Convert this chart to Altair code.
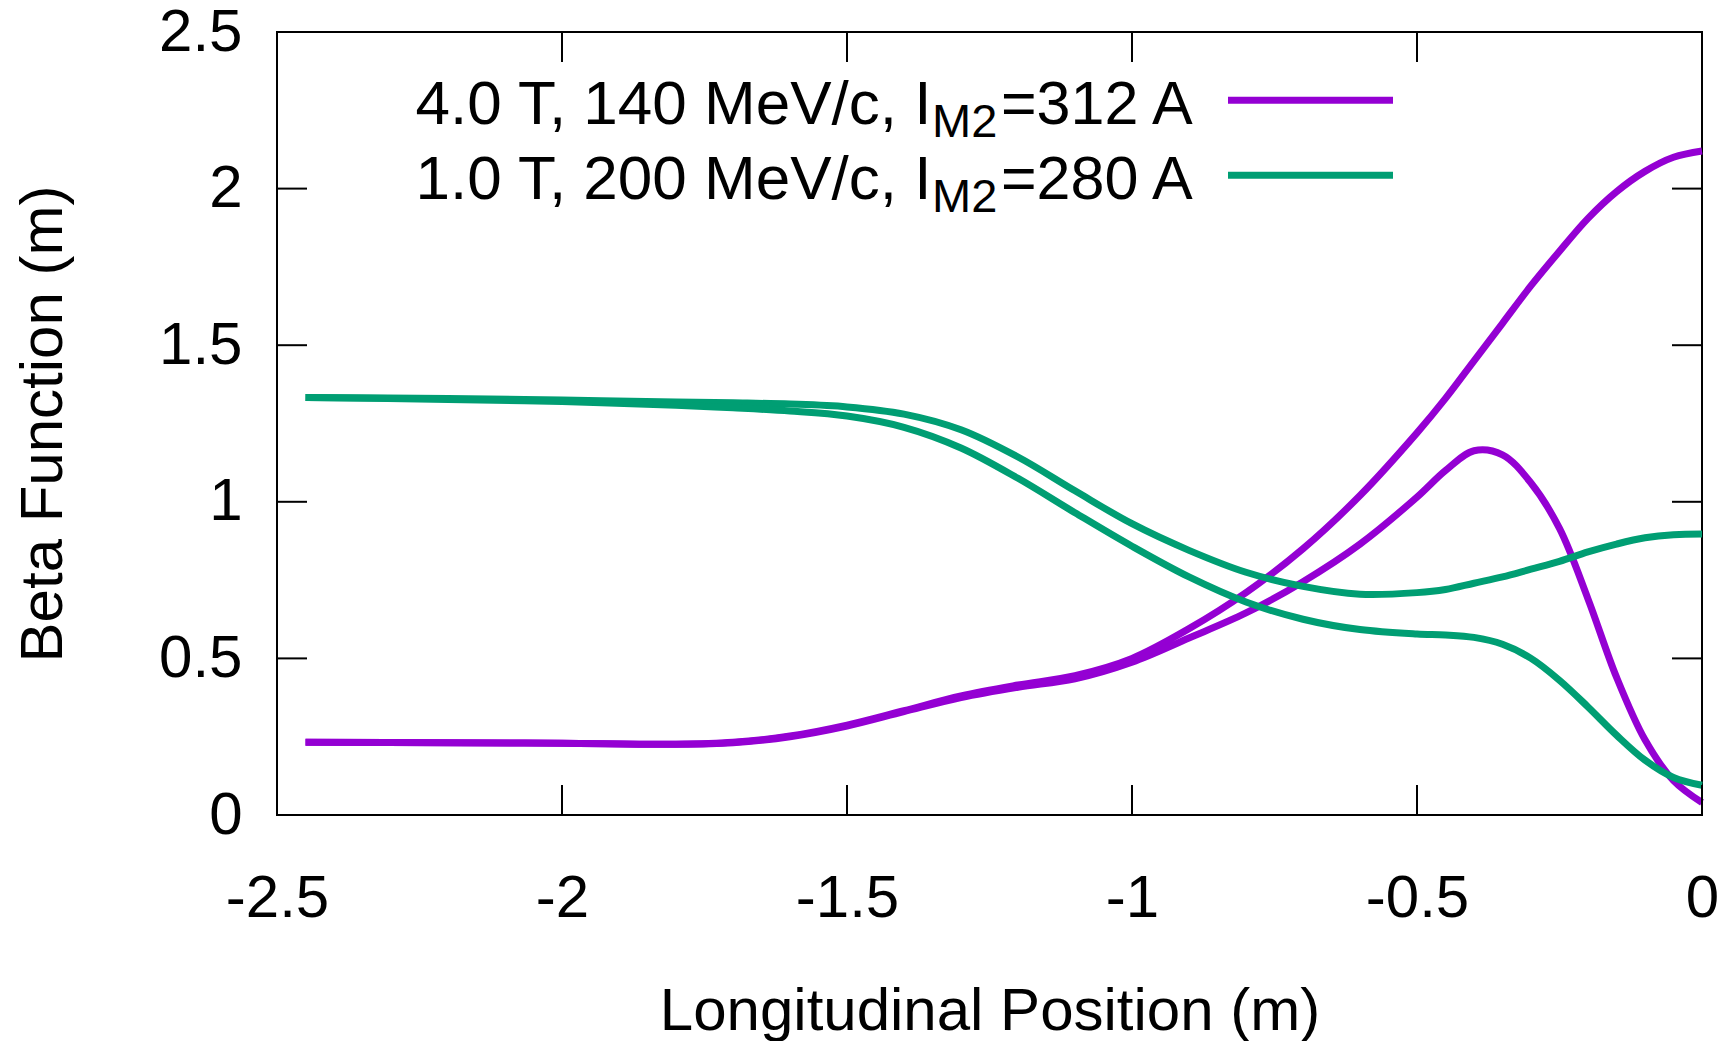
import altair as alt
import pandas as pd

# ---------------- data ----------------
x_pos = [-2.45, -2.2, -2.0, -1.8, -1.7, -1.6, -1.5, -1.4, -1.3, -1.2, -1.1, -1.0,
         -0.9, -0.8, -0.7, -0.6, -0.5, -0.45, -0.4, -0.35, -0.3, -0.25, -0.2,
         -0.15, -0.1, -0.05, 0.0]

purple_a = [0.232, 0.231, 0.229, 0.226, 0.232, 0.252, 0.287, 0.333, 0.380, 0.415, 0.445, 0.500,
            0.595, 0.710, 0.850, 1.020, 1.220, 1.330, 1.450, 1.570, 1.690, 1.800, 1.905,
            1.990, 2.055, 2.100, 2.120]
purple_b = [0.232, 0.231, 0.229, 0.226, 0.231, 0.250, 0.284, 0.330, 0.375, 0.408, 0.435, 0.488,
            0.565, 0.645, 0.745, 0.865, 1.015, 1.100, 1.163, 1.150, 1.060, 0.915, 0.690,
            0.440, 0.240, 0.110, 0.040]
green_c = [1.333, 1.330, 1.325, 1.319, 1.316, 1.312, 1.303, 1.280, 1.230, 1.143, 1.035, 0.930,
           0.845, 0.775, 0.730, 0.705, 0.710, 0.720, 0.740, 0.760, 0.785, 0.810, 0.840,
           0.865, 0.885, 0.895, 0.897]
green_d = [1.333, 1.327, 1.320, 1.308, 1.300, 1.290, 1.274, 1.238, 1.172, 1.075, 0.965, 0.858,
           0.760, 0.680, 0.625, 0.592, 0.578, 0.575, 0.567, 0.545, 0.500, 0.430, 0.345,
           0.255, 0.175, 0.120, 0.095]

configs = ["4.0 T, 140 MeV/c", "1.0 T, 200 MeV/c"]
colors = ["#9400d3", "#009e73"]
legend_main = ["4.0 T, 140 MeV/c, I", "1.0 T, 200 MeV/c, I"]
legend_sub = ["M2", "M2"]
legend_rest = ["=312 A", "=280 A"]

x_ticks = [-2.5, -2.0, -1.5, -1.0, -0.5, 0.0]
y_ticks = [0.0, 0.5, 1.0, 1.5, 2.0, 2.5]

# ---------------- build table ----------------
curves = [(configs[0], "a", purple_a), (configs[0], "b", purple_b),
          (configs[1], "c", green_c), (configs[1], "d", green_d)]
rows = []
for cfg, cid, ys in curves:
    for xv, yv in zip(x_pos, ys):
        rows.append({"x": xv, "beta": yv, "config": cfg, "curve": cid})
df = pd.DataFrame(rows)

W, H = 1425, 783
FONT = "Liberation Sans"
TICK = 30

x_scale = alt.Scale(domain=[-2.5, 0], nice=False, zero=False)
y_scale = alt.Scale(domain=[0, 2.5], nice=False, zero=False)
color_scale = alt.Scale(domain=configs, range=colors)

label_expr = "(datum.value < 0 ? '-' : '') + format(abs(datum.value), '~g')"

x_axis = alt.Axis(values=x_ticks, title="Longitudinal Position (m)", grid=False,
                  ticks=False, tickSize=0, domain=False,
                  labelFont=FONT, labelFontSize=60, labelColor="black", labelPadding=54,
                  labelFlush=False, labelOverlap=False, labelExpr=label_expr,
                  titleFont=FONT, titleFontSize=60, titleFontWeight="normal", titleColor="black",
                  titleX=W / 2, titleY=214, titleAlign="center", titleBaseline="alphabetic")
y_axis = alt.Axis(values=y_ticks, title="Beta Function (m)", grid=False,
                  ticks=False, tickSize=0, domain=False,
                  labelFont=FONT, labelFontSize=60, labelColor="black", labelPadding=35,
                  labelFlush=False, labelOverlap=False, labelExpr=label_expr,
                  titleFont=FONT, titleFontSize=60, titleFontWeight="normal", titleColor="black",
                  titleX=-216, titleY=H / 2, titleAngle=270, titleAlign="center",
                  titleBaseline="alphabetic")

lines = alt.Chart(df).mark_line(strokeWidth=7, interpolate="catmull-rom").encode(
    x=alt.X("x:Q", scale=x_scale, axis=x_axis),
    y=alt.Y("beta:Q", scale=y_scale, axis=y_axis),
    color=alt.Color("config:N", scale=color_scale, legend=None),
    detail="curve:N",
)

# inward ticks on all four sides
xt = alt.Chart(pd.DataFrame({"x": x_ticks}))
yt = alt.Chart(pd.DataFrame({"beta": y_ticks}))
tick_style = dict(color="black", strokeWidth=2)
ticks_bottom = xt.mark_rule(**tick_style).encode(
    x=alt.X("x:Q", scale=x_scale, axis=x_axis), y=alt.value(H), y2=alt.value(H - TICK))
ticks_top = xt.mark_rule(**tick_style).encode(
    x=alt.X("x:Q", scale=x_scale, axis=x_axis), y=alt.value(0), y2=alt.value(TICK))
ticks_left = yt.mark_rule(**tick_style).encode(
    y=alt.Y("beta:Q", scale=y_scale, axis=y_axis), x=alt.value(0), x2=alt.value(TICK))
ticks_right = yt.mark_rule(**tick_style).encode(
    y=alt.Y("beta:Q", scale=y_scale, axis=y_axis), x=alt.value(W), x2=alt.value(W - TICK))

# legend (key text with subscript, and sample lines)
legend_layers = []
for i in range(2):
    dy = 75 * i
    legend_layers.append(
        alt.Chart(pd.DataFrame({"t": [legend_main[i]]})).mark_text(
            align="right", baseline="alphabetic", font=FONT, fontSize=62, color="black"
        ).encode(text="t:N", x=alt.value(654.4), y=alt.value(92 + dy)))
    legend_layers.append(
        alt.Chart(pd.DataFrame({"t": [legend_sub[i]]})).mark_text(
            align="left", baseline="alphabetic", font=FONT, fontSize=47, color="black"
        ).encode(text="t:N", x=alt.value(655), y=alt.value(105 + dy)))
    legend_layers.append(
        alt.Chart(pd.DataFrame({"t": [legend_rest[i]]})).mark_text(
            align="left", baseline="alphabetic", font=FONT, fontSize=61, color="black"
        ).encode(text="t:N", x=alt.value(724), y=alt.value(92 + dy)))
    legend_layers.append(
        alt.Chart(pd.DataFrame({"config": [configs[i]]})).mark_rule(strokeWidth=7).encode(
            color=alt.Color("config:N", scale=color_scale, legend=None),
            x=alt.value(951), x2=alt.value(1116), y=alt.value(68.3 + dy)))

chart = alt.layer(
    lines, ticks_bottom, ticks_top, ticks_left, ticks_right, *legend_layers
).properties(
    width=W, height=H,
    autosize=alt.AutoSizeParams(type="none"),
    padding={"left": 277, "top": 32, "right": 29, "bottom": 226},
    background="white",
).configure_view(stroke="black", strokeWidth=2)

chart.save("out.html", embed_options={"renderer": "svg", "actions": False})
